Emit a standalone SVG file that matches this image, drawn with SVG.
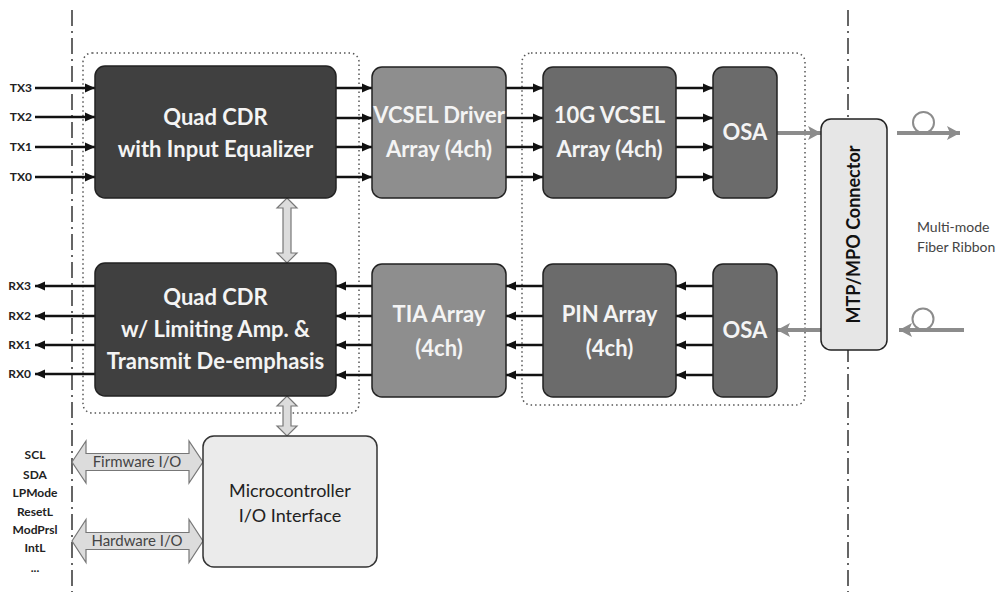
<svg xmlns="http://www.w3.org/2000/svg" width="1001" height="599" viewBox="0 0 1001 599">
<defs>
<marker id="ah" markerUnits="userSpaceOnUse" markerWidth="10" markerHeight="10" refX="10" refY="5" orient="auto"><path d="M0,0.5 L10,5 L0,9.5 z" fill="#111"/></marker>
<marker id="gh" markerUnits="userSpaceOnUse" markerWidth="14" markerHeight="14" refX="13" refY="7" orient="auto"><path d="M0,0 L13,7 L0,14 L3,7 z" fill="#8c8c8c"/></marker>
</defs>
<style>
.bx{stroke:#222;stroke-width:1.5}
.dk{fill:#404040}.md{fill:#6b6b6b}.lt{fill:#8e8e8e}
.wt{font-family:Lato,"Open Sans",sans-serif;font-weight:bold;font-size:22px;fill:#f4f4f4;text-anchor:middle}
.lb{font-family:Lato,"Liberation Sans",sans-serif;font-weight:bold;font-size:12px;fill:#222}
.sig{stroke:#111;stroke-width:2.5;fill:none}
.fib{stroke:#8c8c8c;stroke-width:4;fill:none}
.dd{stroke:#333;stroke-width:1.5;stroke-dasharray:16 5 2 5;fill:none}
.dot{stroke:#555;stroke-width:1.5;stroke-dasharray:1.5 3;fill:none}
.dbl{fill:#dcdcdc;stroke:#777;stroke-width:1.2}
</style>
<rect width="1001" height="599" fill="#fff"/>
<line class="dd" x1="72" y1="10" x2="72" y2="592"/>
<line class="dd" x1="848" y1="10" x2="848" y2="592"/>
<rect class="dot" x="83" y="53" width="276" height="360" rx="9"/>
<rect class="dot" x="522" y="53" width="283" height="352" rx="9"/>

<g id="connectors">
<line class="sig" x1="35" y1="88" x2="95" y2="88" marker-end="url(#ah)"/>
<line class="sig" x1="35" y1="117" x2="95" y2="117" marker-end="url(#ah)"/>
<line class="sig" x1="35" y1="147" x2="95" y2="147" marker-end="url(#ah)"/>
<line class="sig" x1="35" y1="177" x2="95" y2="177" marker-end="url(#ah)"/>
<line class="sig" x1="336" y1="88" x2="372" y2="88" marker-end="url(#ah)"/>
<line class="sig" x1="336" y1="118" x2="372" y2="118" marker-end="url(#ah)"/>
<line class="sig" x1="336" y1="147" x2="372" y2="147" marker-end="url(#ah)"/>
<line class="sig" x1="336" y1="177" x2="372" y2="177" marker-end="url(#ah)"/>
<line class="sig" x1="506" y1="88" x2="543" y2="88" marker-end="url(#ah)"/>
<line class="sig" x1="506" y1="118" x2="543" y2="118" marker-end="url(#ah)"/>
<line class="sig" x1="506" y1="147" x2="543" y2="147" marker-end="url(#ah)"/>
<line class="sig" x1="506" y1="177" x2="543" y2="177" marker-end="url(#ah)"/>
<line class="sig" x1="676" y1="88" x2="713" y2="88" marker-end="url(#ah)"/>
<line class="sig" x1="676" y1="118" x2="713" y2="118" marker-end="url(#ah)"/>
<line class="sig" x1="676" y1="147" x2="713" y2="147" marker-end="url(#ah)"/>
<line class="sig" x1="676" y1="177" x2="713" y2="177" marker-end="url(#ah)"/>
<line class="sig" x1="713" y1="286" x2="676" y2="286" marker-end="url(#ah)"/>
<line class="sig" x1="713" y1="316" x2="676" y2="316" marker-end="url(#ah)"/>
<line class="sig" x1="713" y1="345" x2="676" y2="345" marker-end="url(#ah)"/>
<line class="sig" x1="713" y1="375" x2="676" y2="375" marker-end="url(#ah)"/>
<line class="sig" x1="543" y1="286" x2="506" y2="286" marker-end="url(#ah)"/>
<line class="sig" x1="543" y1="316" x2="506" y2="316" marker-end="url(#ah)"/>
<line class="sig" x1="543" y1="345" x2="506" y2="345" marker-end="url(#ah)"/>
<line class="sig" x1="543" y1="375" x2="506" y2="375" marker-end="url(#ah)"/>
<line class="sig" x1="372" y1="286" x2="336" y2="286" marker-end="url(#ah)"/>
<line class="sig" x1="372" y1="316" x2="336" y2="316" marker-end="url(#ah)"/>
<line class="sig" x1="372" y1="345" x2="336" y2="345" marker-end="url(#ah)"/>
<line class="sig" x1="372" y1="375" x2="336" y2="375" marker-end="url(#ah)"/>
<line class="sig" x1="95" y1="286" x2="35" y2="286" marker-end="url(#ah)"/>
<line class="sig" x1="95" y1="316" x2="35" y2="316" marker-end="url(#ah)"/>
<line class="sig" x1="95" y1="345" x2="35" y2="345" marker-end="url(#ah)"/>
<line class="sig" x1="95" y1="374" x2="35" y2="374" marker-end="url(#ah)"/>
<line class="fib" x1="777" y1="133" x2="821" y2="133" marker-end="url(#gh)"/>
<line class="fib" x1="821" y1="330" x2="777" y2="330" marker-end="url(#gh)"/>
<line class="fib" x1="897" y1="133" x2="960" y2="133" marker-end="url(#gh)"/>
<circle cx="923.5" cy="122.5" r="10.5" fill="none" stroke="#8c8c8c" stroke-width="2"/>
<line class="fib" x1="964" y1="330" x2="899" y2="330" marker-end="url(#gh)"/>
<circle cx="923" cy="319" r="10.5" fill="none" stroke="#8c8c8c" stroke-width="2"/>
<path class="dbl" d="M287,198 L297,208 L291,208 L291,253 L297,253 L287,263 L277,253 L283,253 L283,208 L277,208 Z"/>
<path class="dbl" d="M287,396 L297,406 L291,406 L291,426 L297,426 L287,436 L277,426 L283,426 L283,406 L277,406 Z"/>
<path class="dbl" d="M72,462 L86,441 L86,453.5 L189,453.5 L189,441 L203,462 L189,483 L189,470.5 L86,470.5 L86,483 Z"/>
<path class="dbl" d="M72,541 L86,519.5 L86,532.5 L189,532.5 L189,519.5 L203,541 L189,562.5 L189,549.5 L86,549.5 L86,562.5 Z"/>
<text x="137" y="467" font-family="Lato,'Liberation Sans',sans-serif" font-size="15" fill="#444" text-anchor="middle">Firmware I/O</text>
<text x="137" y="546" font-family="Lato,'Liberation Sans',sans-serif" font-size="15" fill="#444" text-anchor="middle">Hardware I/O</text>
</g>

<g id="tx-labels">
<text class="lb" x="32" y="92" text-anchor="end">TX3</text>
<text class="lb" x="32" y="121" text-anchor="end">TX2</text>
<text class="lb" x="32" y="151" text-anchor="end">TX1</text>
<text class="lb" x="32" y="181" text-anchor="end">TX0</text>
</g>
<g id="rx-labels">
<text class="lb" x="31" y="290" text-anchor="end">RX3</text>
<text class="lb" x="31" y="320" text-anchor="end">RX2</text>
<text class="lb" x="31" y="349" text-anchor="end">RX1</text>
<text class="lb" x="31" y="378" text-anchor="end">RX0</text>
</g>
<g id="mgmt-labels" text-anchor="middle">
<text class="lb" x="35" y="459">SCL</text>
<text class="lb" x="35" y="479">SDA</text>
<text class="lb" x="35" y="497">LPMode</text>
<text class="lb" x="35" y="516">ResetL</text>
<text class="lb" x="35" y="534">ModPrsl</text>
<text class="lb" x="35" y="552">IntL</text>
<text class="lb" x="35" y="572">...</text>
</g>

<g id="cdr-tx">
<rect class="bx dk" x="95" y="66" width="241" height="132" rx="10"/>
<text class="wt" x="215.5" y="125">Quad CDR</text>
<text class="wt" x="215.5" y="157">with Input Equalizer</text>
</g>
<g id="cdr-rx">
<rect class="bx dk" x="95" y="263" width="241" height="133" rx="10"/>
<text class="wt" x="215.5" y="305">Quad CDR</text>
<text class="wt" x="215.5" y="337">w/ Limiting Amp. &amp;</text>
<text class="wt" x="215.5" y="369">Transmit De-emphasis</text>
</g>
<g id="vcsel-driver">
<rect class="bx lt" x="372" y="67" width="134" height="131" rx="10"/>
<text class="wt" x="439" y="123">VCSEL Driver</text>
<text class="wt" x="439" y="157">Array (4ch)</text>
</g>
<g id="tia">
<rect class="bx lt" x="372" y="264" width="134" height="133" rx="10"/>
<text class="wt" x="439" y="322">TIA Array</text>
<text class="wt" x="439" y="356">(4ch)</text>
</g>
<g id="vcsel">
<rect class="bx md" x="543" y="67" width="133" height="131" rx="10"/>
<text class="wt" x="609.5" y="123">10G VCSEL</text>
<text class="wt" x="609.5" y="157">Array (4ch)</text>
</g>
<g id="pin">
<rect class="bx md" x="543" y="264" width="133" height="133" rx="10"/>
<text class="wt" x="609.5" y="322">PIN Array</text>
<text class="wt" x="609.5" y="356">(4ch)</text>
</g>
<g id="osa-tx">
<rect class="bx md" x="713" y="67" width="64" height="131" rx="10"/>
<text class="wt" x="745" y="140">OSA</text>
</g>
<g id="osa-rx">
<rect class="bx md" x="713" y="264" width="64" height="133" rx="10"/>
<text class="wt" x="745" y="338">OSA</text>
</g>
<g id="mtp">
<rect x="821" y="119" width="66" height="231" rx="10" fill="#e6e6e6" stroke="#222" stroke-width="1.5"/>
<text x="860" y="234.5" transform="rotate(-90 860 234.5)" font-family="Lato,'Open Sans',sans-serif" font-weight="bold" font-size="18" fill="#111" text-anchor="middle">MTP/MPO Connector</text>
</g>
<g id="fiber-label" font-family="Lato,'Open Sans',sans-serif" font-size="14" fill="#444">
<text x="917" y="232">Multi-mode</text>
<text x="917" y="252">Fiber Ribbon</text>
</g>
<g id="mcu">
<rect x="203" y="436" width="174" height="131" rx="11" fill="#ebebeb" stroke="#333" stroke-width="1.5"/>
<text x="290" y="497" font-family="Lato,'Open Sans',sans-serif" font-size="18" fill="#222" text-anchor="middle">Microcontroller</text>
<text x="290" y="522" font-family="Lato,'Open Sans',sans-serif" font-size="18" fill="#222" text-anchor="middle">I/O Interface</text>
</g>
</svg>
